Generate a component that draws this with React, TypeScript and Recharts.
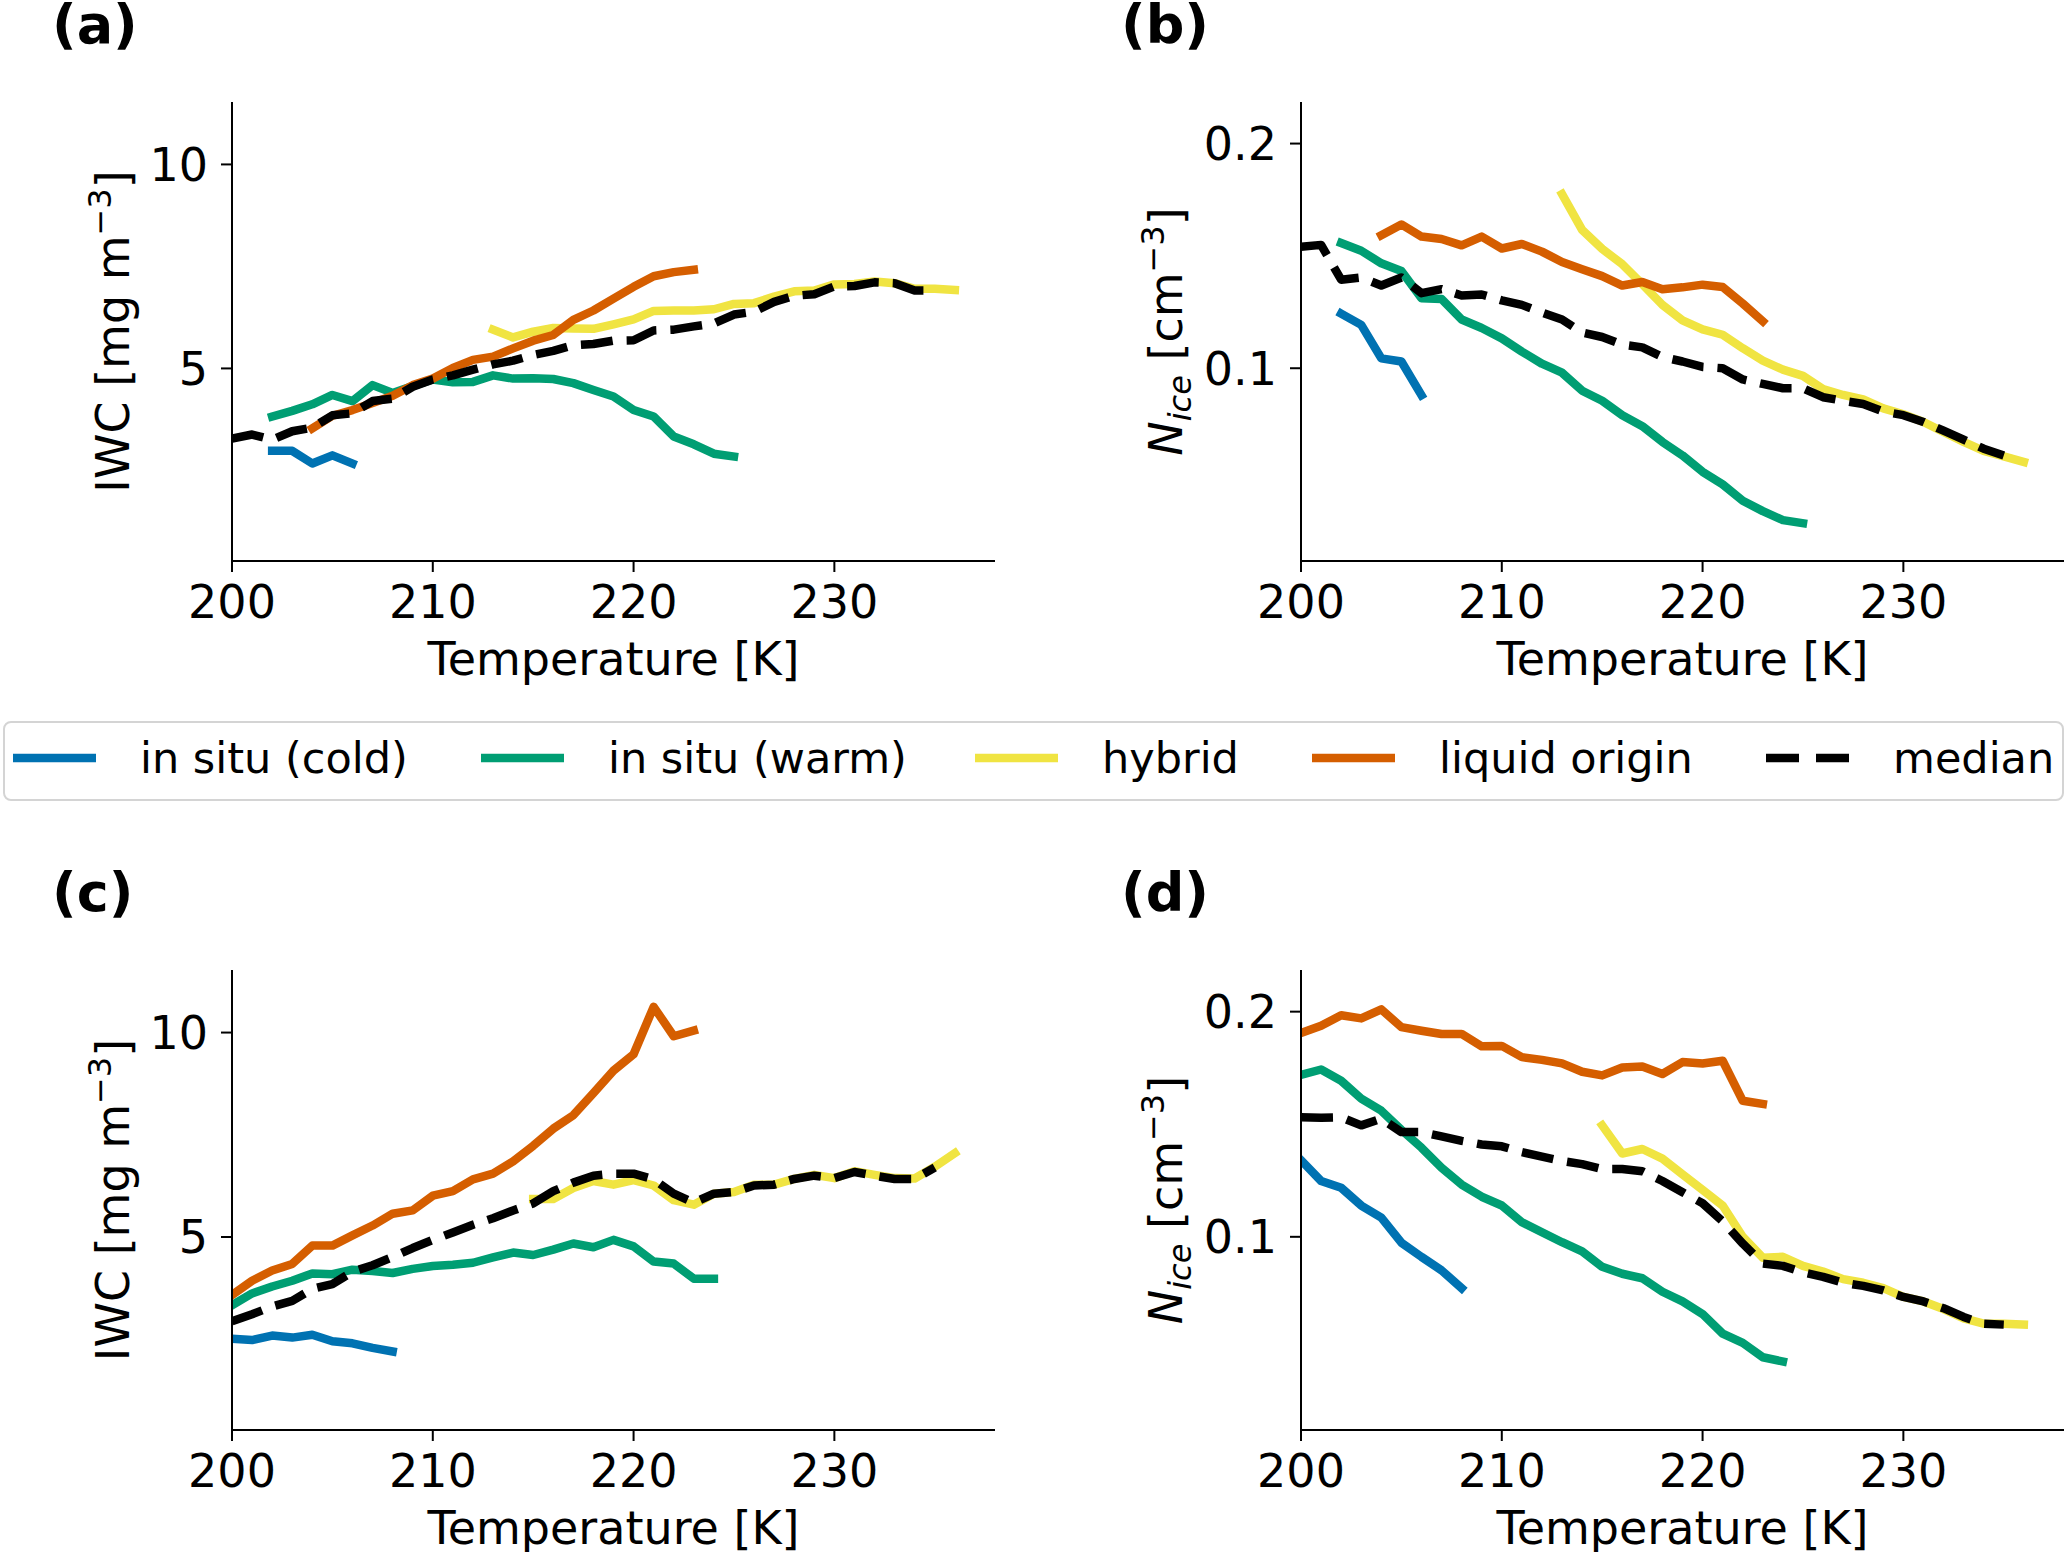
import { Line, LineChart, XAxis, YAxis } from "recharts";

const FONT = '"DejaVu Sans", sans-serif';

// shared axis settings
const TEMP_DOMAIN = [200, 238];
const TEMP_TICKS = [200, 210, 220, 230];
const IWC_DOMAIN = [0.28, 11.53];
const IWC_TICKS = [5, 10];
const NICE_DOMAIN = [0.0142, 0.2185];
const NICE_TICKS = [0.1, 0.2];

// first temperature (K) of each series, 1 K steps after that
const startA = { cold: 202, warm: 202, hybrid: 213, liquid: 204, median: 200 };
const startB = { cold: 202, warm: 202, hybrid: 213, liquid: 204, median: 200 };
const startC = { cold: 200, warm: 200, hybrid: 215, liquid: 200, median: 200 };
const startD = { cold: 200, warm: 200, hybrid: 215, liquid: 200, median: 200 };

// (a) IWC [mg m-3]
const aCold = [2.98, 2.98, 2.67, 2.87, 2.67];
const aWarm = [3.82, 3.96, 4.12, 4.35, 4.2, 4.59, 4.4, 4.57, 4.73, 4.66, 4.67, 4.83, 4.75, 4.76, 4.74, 4.64, 4.47, 4.31, 3.98, 3.82, 3.33, 3.14, 2.91, 2.84];
const aHybrid = [5.95, 5.76, 5.9, 5.99, 5.98, 5.97, 6.08, 6.2, 6.41, 6.42, 6.42, 6.45, 6.58, 6.6, 6.76, 6.89, 6.91, 7.06, 7.07, 7.13, 7.09, 6.95, 6.95, 6.92];
const aLiquid = [3.53, 3.84, 3.98, 4.15, 4.33, 4.59, 4.75, 5.01, 5.21, 5.29, 5.49, 5.68, 5.82, 6.19, 6.42, 6.71, 7.0, 7.26, 7.36, 7.42];
const aMedian = [3.28, 3.38, 3.25, 3.46, 3.55, 3.85, 3.9, 4.2, 4.26, 4.55, 4.73, 4.83, 4.97, 5.1, 5.19, 5.33, 5.43, 5.57, 5.6, 5.68, 5.69, 5.93, 5.95, 6.03, 6.1, 6.32, 6.39, 6.63, 6.78, 6.82, 7.01, 7.02, 7.11, 7.09, 6.91, 6.91];

// (b) Nice [cm-3]
const bCold = [0.1243, 0.1193, 0.1044, 0.103, 0.088];
const bWarm = [0.1557, 0.1523, 0.1467, 0.1433, 0.1312, 0.1308, 0.1217, 0.1179, 0.1133, 0.1074, 0.102, 0.098, 0.09, 0.0855, 0.0791, 0.0742, 0.0672, 0.0612, 0.0539, 0.0483, 0.041, 0.0364, 0.0324, 0.031];
const bHybrid = [0.1775, 0.1616, 0.1531, 0.1463, 0.1374, 0.1282, 0.1213, 0.1173, 0.1149, 0.1089, 0.1034, 0.0994, 0.0966, 0.0907, 0.0881, 0.0861, 0.0821, 0.0795, 0.0761, 0.0716, 0.0672, 0.0632, 0.0608, 0.0583];
const bLiquid = [0.1592, 0.164, 0.1586, 0.1575, 0.1547, 0.1586, 0.1533, 0.1553, 0.1519, 0.1473, 0.1441, 0.141, 0.1368, 0.1384, 0.1352, 0.136, 0.1372, 0.1362, 0.1288, 0.1209];
const bMedian = [0.1541, 0.1549, 0.1394, 0.1404, 0.1368, 0.1404, 0.1334, 0.1352, 0.1324, 0.1328, 0.1302, 0.1282, 0.1248, 0.1217, 0.1159, 0.1139, 0.1105, 0.1093, 0.105, 0.103, 0.1006, 0.1, 0.095, 0.093, 0.0911, 0.0911, 0.0871, 0.0855, 0.0841, 0.0807, 0.0791, 0.0761, 0.0722, 0.0682, 0.0642, 0.0612];

// (c) IWC [mg m-3]
const cCold = [2.51, 2.48, 2.59, 2.54, 2.61, 2.45, 2.4, 2.29, 2.2];
const cWarm = [3.33, 3.62, 3.79, 3.93, 4.11, 4.09, 4.2, 4.17, 4.12, 4.22, 4.29, 4.32, 4.37, 4.5, 4.62, 4.56, 4.69, 4.84, 4.75, 4.93, 4.77, 4.4, 4.35, 3.98, 3.98];
const cHybrid = [5.93, 5.93, 6.2, 6.37, 6.28, 6.39, 6.26, 5.9, 5.79, 6.06, 6.1, 6.28, 6.28, 6.42, 6.52, 6.44, 6.61, 6.52, 6.44, 6.43, 6.72, 7.05];
const cLiquid = [3.58, 3.93, 4.18, 4.34, 4.79, 4.79, 5.04, 5.28, 5.57, 5.65, 6.01, 6.12, 6.41, 6.55, 6.85, 7.23, 7.65, 7.98, 8.52, 9.07, 9.47, 10.63, 9.91, 10.05];
const cMedian = [2.94, 3.11, 3.3, 3.44, 3.73, 3.85, 4.15, 4.31, 4.51, 4.73, 4.93, 5.11, 5.3, 5.46, 5.65, 5.82, 6.12, 6.33, 6.5, 6.55, 6.55, 6.41, 6.06, 5.84, 6.06, 6.1, 6.26, 6.28, 6.42, 6.5, 6.44, 6.59, 6.5, 6.42, 6.42, 6.7];

// (d) Nice [cm-3]
const dCold = [0.134, 0.1248, 0.1218, 0.1139, 0.1085, 0.0974, 0.0911, 0.0851, 0.0772];
const dWarm = [0.1719, 0.1743, 0.1693, 0.1614, 0.156, 0.1475, 0.1396, 0.1307, 0.1232, 0.1178, 0.1139, 0.1065, 0.102, 0.0976, 0.0935, 0.0867, 0.0836, 0.0816, 0.0756, 0.0713, 0.0657, 0.057, 0.0529, 0.0465, 0.0446];
const dHybrid = [0.1495, 0.137, 0.139, 0.1347, 0.1277, 0.1208, 0.1139, 0.1, 0.0907, 0.0911, 0.0871, 0.0846, 0.0812, 0.0796, 0.0772, 0.0733, 0.0713, 0.0679, 0.0638, 0.0614, 0.0614, 0.061];
const dLiquid = [0.1905, 0.1937, 0.1984, 0.197, 0.201, 0.1931, 0.1915, 0.1901, 0.1901, 0.1846, 0.1848, 0.1798, 0.1786, 0.177, 0.1733, 0.1717, 0.1752, 0.1756, 0.1723, 0.1776, 0.177, 0.1782, 0.1604, 0.159];
const dMedian = [0.1531, 0.1529, 0.1531, 0.1495, 0.1525, 0.1465, 0.1465, 0.1446, 0.1426, 0.141, 0.1402, 0.1376, 0.1356, 0.1337, 0.1323, 0.1301, 0.1301, 0.1291, 0.1248, 0.1198, 0.1149, 0.1069, 0.097, 0.0881, 0.0871, 0.0842, 0.0822, 0.0796, 0.0782, 0.0762, 0.0733, 0.0713, 0.0683, 0.0644, 0.0614, 0.061];

const SERIES = [
  { key: "cold", name: "in situ (cold)", color: "#0072B2", dashed: false },
  { key: "warm", name: "in situ (warm)", color: "#009E73", dashed: false },
  { key: "hybrid", name: "hybrid", color: "#F0E442", dashed: false },
  { key: "liquid", name: "liquid origin", color: "#D55E00", dashed: false },
  { key: "median", name: "median", color: "#000000", dashed: true },
];

const LEGEND_X = [13, 481, 975, 1312, 1766];

const LW = 8.5;
const DASH = "32 14";

const toPoints = (start: number, vals: number[]) => vals.map((v, i) => ({ t: start + i, v }));

const build = (start: Record<string, number>, cold: number[], warm: number[], hybrid: number[], liquid: number[], median: number[]) => ({
  cold: toPoints(start.cold, cold),
  warm: toPoints(start.warm, warm),
  hybrid: toPoints(start.hybrid, hybrid),
  liquid: toPoints(start.liquid, liquid),
  median: toPoints(start.median, median),
});

const dataA = build(startA, aCold, aWarm, aHybrid, aLiquid, aMedian);
const dataB = build(startB, bCold, bWarm, bHybrid, bLiquid, bMedian);
const dataC = build(startC, cCold, cWarm, cHybrid, cLiquid, cMedian);
const dataD = build(startD, dCold, dWarm, dHybrid, dLiquid, dMedian);

const tickStyle = { fill: "#000", fontSize: 46, fontFamily: FONT };

const iwcLabel = (off: number) => (props: any) => {
  const { x, y, width, height } = props.viewBox;
  const bx = x + width - off;
  const cy = y + height / 2;
  return (
    <text x={bx} y={cy} transform={`rotate(-90, ${bx}, ${cy})`} textAnchor="middle" fontSize={46} fontFamily={FONT} fill="#000">
      IWC [mg m<tspan dy={-18} fontSize={32}>−3</tspan>
      <tspan dy={18}>]</tspan>
    </text>
  );
};

const niceLabel = (off: number) => (props: any) => {
  const { x, y, width, height } = props.viewBox;
  const bx = x + width - off;
  const cy = y + height / 2;
  return (
    <text x={bx} y={cy} transform={`rotate(-90, ${bx}, ${cy})`} textAnchor="middle" fontSize={46} fontFamily={FONT} fill="#000">
      <tspan fontStyle="italic">N</tspan>
      <tspan dy={9} fontSize={32} fontStyle="italic">ice</tspan>
      <tspan dy={-9}> [cm</tspan>
      <tspan dy={-18} fontSize={32}>−3</tspan>
      <tspan dy={18}>]</tspan>
    </text>
  );
};

const tempLabel = (props: any) => {
  const { x, y, width } = props.viewBox;
  return (
    <text x={x + width / 2} y={y + 114} textAnchor="middle" fontSize={46} fontFamily={FONT} fill="#000">
      Temperature [K]
    </text>
  );
};

type PanelProps = {
  left: number;
  top: number;
  width: number;
  height: number;
  margin: { top: number; right: number; bottom: number; left: number };
  yWidth: number;
  data: Record<string, { t: number; v: number }[]>;
  yDomain: number[];
  yTicks: number[];
  yLabel: (props: any) => any;
};

function Panel({ left, top, width, height, margin, yWidth, data, yDomain, yTicks, yLabel }: PanelProps) {
  return (
    <div style={{ position: "absolute", left, top }}>
      <LineChart width={width} height={height} margin={margin}>
        <XAxis
          type="number"
          dataKey="t"
          domain={TEMP_DOMAIN}
          ticks={TEMP_TICKS}
          allowDataOverflow
          height={100}
          tick={tickStyle}
          tickSize={11}
          tickMargin={13}
          axisLine={{ stroke: "#000", strokeWidth: 2 }}
          tickLine={{ stroke: "#000", strokeWidth: 2 }}
          label={tempLabel}
        />
        <YAxis
          type="number"
          domain={yDomain}
          ticks={yTicks}
          allowDataOverflow
          width={yWidth}
          tick={tickStyle}
          tickSize={11}
          tickMargin={13}
          axisLine={{ stroke: "#000", strokeWidth: 2 }}
          tickLine={{ stroke: "#000", strokeWidth: 2 }}
          label={yLabel}
        />
        {SERIES.map((s) => (
          <Line
            key={s.key}
            data={data[s.key]}
            dataKey="v"
            name={s.name}
            stroke={s.color}
            strokeWidth={LW}
            strokeDasharray={s.dashed ? DASH : undefined}
            strokeLinecap={s.dashed ? "butt" : "square"}
            strokeLinejoin="round"
            dot={false}
            activeDot={false}
            isAnimationActive={false}
          />
        ))}
      </LineChart>
    </div>
  );
}

const TITLES = [
  { text: "(a)", x: 52, y: 43 },
  { text: "(b)", x: 1121, y: 43 },
  { text: "(c)", x: 52, y: 911 },
  { text: "(d)", x: 1121, y: 911 },
];

export default function App() {
  const topMargin = { top: 102, bottom: 59 };
  const botMargin = { top: 120, bottom: 22 };
  return (
    <div style={{ position: "absolute", left: 0, top: 0, width: 2067, height: 1552, background: "#fff", fontFamily: FONT }}>
      <Panel left={0} top={0} width={1033} height={720} margin={{ ...topMargin, left: 100, right: 38 }} yWidth={132} data={dataA} yDomain={IWC_DOMAIN} yTicks={IWC_TICKS} yLabel={iwcLabel(103)} />
      <Panel left={1033} top={0} width={1034} height={720} margin={{ ...topMargin, left: 100, right: 3 }} yWidth={168} data={dataB} yDomain={NICE_DOMAIN} yTicks={NICE_TICKS} yLabel={niceLabel(119)} />
      <Panel left={0} top={850} width={1033} height={702} margin={{ ...botMargin, left: 100, right: 38 }} yWidth={132} data={dataC} yDomain={IWC_DOMAIN} yTicks={IWC_TICKS} yLabel={iwcLabel(103)} />
      <Panel left={1033} top={850} width={1034} height={702} margin={{ ...botMargin, left: 100, right: 3 }} yWidth={168} data={dataD} yDomain={NICE_DOMAIN} yTicks={NICE_TICKS} yLabel={niceLabel(119)} />

      <svg width={2067} height={1552} style={{ position: "absolute", left: 0, top: 0, pointerEvents: "none" }}>
        {TITLES.map((t) => (
          <text key={t.text} x={t.x} y={t.y} fontSize={54} fontWeight="bold" fontFamily={FONT} fill="#000">
            {t.text}
          </text>
        ))}
        <rect x={4} y={722} width={2059} height={78} rx={7} fill="#fff" stroke="#d4d4d4" strokeWidth={2} />
        {SERIES.map((s, i) => (
          <g key={s.key}>
            <line
              x1={LEGEND_X[i]}
              x2={LEGEND_X[i] + 83}
              y1={758}
              y2={758}
              stroke={s.color}
              strokeWidth={LW}
              strokeDasharray={s.dashed ? "33 17" : undefined}
              strokeLinecap="butt"
            />
            <text x={LEGEND_X[i] + 127} y={773} fontSize={43} fontFamily={FONT} fill="#000">
              {s.name}
            </text>
          </g>
        ))}
      </svg>
    </div>
  );
}
